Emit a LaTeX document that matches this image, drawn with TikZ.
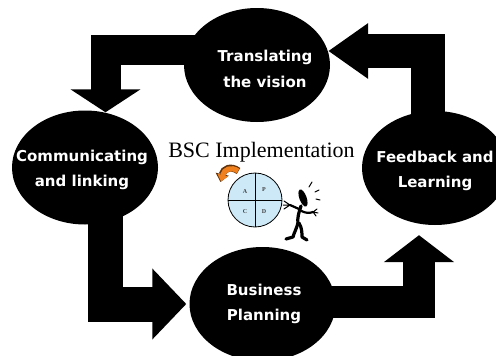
\documentclass[tikz,border=0pt]{standalone}
\usepackage{fontspec}
\setmainfont{Liberation Serif}
\newfontfamily\stagefont{DejaVu Sans}
\usetikzlibrary{shapes.geometric,arrows.meta,calc}
\pgfdeclarelayer{background}
\pgfsetlayers{background,main}
\definecolor{pdcablue}{RGB}{205,233,247}
\definecolor{turnorange}{RGB}{240,128,30}
\begin{document}
\begin{tikzpicture}[x=1pt,y=-1pt,
  stage/.style={ellipse, fill=black, minimum width=146pt, minimum height=114pt, inner sep=0pt},
  stagetext/.style={text=white, align=center, inner sep=0pt,
    font=\stagefont\bfseries\fontsize{15}{25.5}\selectfont},
  flow/.style={line width=#1, line join=miter, line cap=butt, draw=black},
  quarter/.style={font=\fontsize{6}{7}\selectfont\bfseries, text=black!75, inner sep=0pt},
  figure/.style={line width=3.2pt, line cap=round, line join=round},
]
\useasboundingbox (0,0) rectangle (496,356);

% the four stages of the cycle
\node[stage] (top)    at (257,65)    {};
\node[stage] (left)   at (85,167.5)  {};
\node[stage] (right)  at (435,168)   {};
\node[stage] (bottom) at (262.5,304) {};

\node[stagetext] (top-text)    at (265,69)  {Translating\\the vision};
\node[stagetext] (left-text)   at (82,170)  {Communicating\\and linking};
\node[stagetext] (right-text)  at (435,171) {Feedback and\\Learning};
\node[stagetext] (bottom-text) at (264,304) {Business\\Planning};

% block arrows between the stages
\begin{pgfonlayer}{background}
\draw[flow=30pt, -{Triangle[width=69pt,length=23pt]}]
  ($(top.center)+(0,-15)$) -| ($(left.north)+(20.5,2)$);
\draw[flow=35pt, -{Triangle[width=69pt,length=34pt]}]
  ($(left.center)+(20,0)$) |- ($(bottom.west)+(-3,0)$);
\draw[flow=32pt, -{Triangle[width=69pt,length=27pt]}]
  ($(bottom.center)+(0,-2)$) -| ($(right.south)+(-16,10)$);
\draw[flow=34pt, -{Triangle[width=53pt,length=40pt]}]
  ($(right.center)+(-7.5,0)$) |- ($(top.east)+(-2,-14)$);
\end{pgfonlayer}

% title
\node[font=\fontsize{22}{26}\selectfont, inner sep=0pt] (title) at (261.5,152) {BSC Implementation};

% PDCA wheel
\node[circle, draw=black, line width=0.8pt, fill=pdcablue, minimum size=54pt, inner sep=0pt] (pdca) at (255,200) {};
\draw[line width=0.8pt] (pdca.north) -- (pdca.south);
\draw[line width=0.8pt] (pdca.west) -- (pdca.east);
\node[quarter] (qa) at (245,192) {A};
\node[quarter] (qp) at (264,190) {P};
\node[quarter] (qc) at (245,212) {C};
\node[quarter] (qd) at (264,212) {D};

% turning arrow above the wheel
\draw[line width=7pt, black!60!turnorange, -{Triangle[width=13pt,length=8pt]}]
  (238.5,171) .. controls (231,165.5) and (223.5,168.5) .. (220.5,182);
\draw[line width=5.2pt, turnorange, -{Triangle[width=10.5pt,length=6.5pt]}]
  (238,171) .. controls (231,166.3) and (224.2,169.2) .. (221.1,181.4);

% figure pushing the wheel
\fill[rotate around={20:(303,198)}] (303,198) ellipse (3.6pt and 9pt);
\draw[figure] (301,206) .. controls (299,212) and (297,218) .. (298,224);
\draw[figure, line width=2.2pt] (299,209) -- (290,205);
\draw[line width=1pt, line cap=round] (290,205) -- (284,201) (290,205) -- (283,205) (290,205) -- (284,209);
\draw[figure, line width=2.2pt] (300,210) .. controls (306,214) and (310,213) .. (313,212);
\draw[line width=1pt, line cap=round] (313,212) -- (317,209) (313,212) -- (318,213) (313,212) -- (316,216);
\draw[figure] (298,223) .. controls (296,230) and (294,233) .. (293,237) -- (286,239);
\draw[figure] (299,223) .. controls (302,228) and (302,233) .. (302,237) -- (307,240);
\draw[line width=1pt, line cap=round] (309,187) -- (312,182) (315,192) -- (319,190) (316,199) -- (320,200);
\end{tikzpicture}
\end{document}
